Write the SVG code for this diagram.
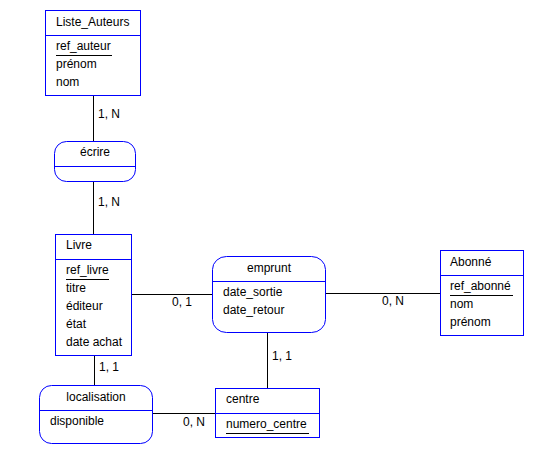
<svg xmlns="http://www.w3.org/2000/svg" width="553" height="473" viewBox="0 0 553 473">
<style>
text{font-family:"Liberation Sans",Arial,sans-serif;font-size:12px;fill:#000}
.c{text-anchor:middle}
.box{fill:#fff;stroke:#0000ff;stroke-width:1}
.sep{stroke:#0000ff;stroke-width:1}
.ul{stroke:#000;stroke-width:1}
.conn line{stroke:#000;stroke-width:1}
</style>
<rect width="553" height="473" fill="#fff"/>
<g id="connectors" class="conn">
<line x1="93.5" y1="96" x2="93.5" y2="141.5"/>
<line x1="93.5" y1="181.5" x2="93.5" y2="234.5"/>
<line x1="131.5" y1="294.5" x2="212.5" y2="294.5"/>
<line x1="325.5" y1="293.5" x2="440.5" y2="293.5"/>
<line x1="267.5" y1="332.5" x2="267.5" y2="388.5"/>
<line x1="94.5" y1="355.5" x2="94.5" y2="385.5"/>
<line x1="152.5" y1="413.5" x2="215.5" y2="413.5"/>
<text x="98" y="118">1, N</text>
<text x="98" y="206">1, N</text>
<text x="172" y="306">0, 1</text>
<text x="382" y="305">0, N</text>
<text x="272" y="360">1, 1</text>
<text x="99" y="371">1, 1</text>
<text x="183" y="426">0, N</text>
</g>
<g id="Liste_Auteurs">
<rect class="box" x="45.5" y="10.5" width="95" height="85"/>
<line class="sep" x1="45.5" y1="35.5" x2="140.5" y2="35.5"/>
<text x="56" y="26">Liste_Auteurs</text>
<text x="56" y="50">ref_auteur</text>
<line class="ul" x1="56" y1="55.5" x2="112" y2="55.5"/>
<text x="56" y="68">prénom</text>
<text x="56" y="86">nom</text>
</g>
<g id="ecrire">
<rect class="box" x="54.5" y="141.5" width="81" height="40" rx="12" ry="12"/>
<line class="sep" x1="54.5" y1="166.5" x2="135.5" y2="166.5"/>
<text class="c" x="95" y="156">écrire</text>
</g>
<g id="Livre">
<rect class="box" x="55.5" y="234.5" width="76" height="121"/>
<line class="sep" x1="55.5" y1="259.5" x2="131.5" y2="259.5"/>
<text x="66" y="249">Livre</text>
<text x="66" y="274">ref_livre</text>
<line class="ul" x1="66" y1="279.5" x2="109" y2="279.5"/>
<text x="66" y="292">titre</text>
<text x="66" y="310">éditeur</text>
<text x="66" y="328">état</text>
<text x="66" y="346">date achat</text>
</g>
<g id="emprunt">
<rect class="box" x="212.5" y="256.5" width="113" height="76" rx="14" ry="13"/>
<line class="sep" x1="212.5" y1="281.5" x2="325.5" y2="281.5"/>
<text class="c" x="269" y="272">emprunt</text>
<text x="223" y="296">date_sortie</text>
<text x="223" y="314">date_retour</text>
</g>
<g id="Abonne">
<rect class="box" x="440.5" y="250.5" width="83" height="85"/>
<line class="sep" x1="440.5" y1="275.5" x2="523.5" y2="275.5"/>
<text x="450" y="266">Abonné</text>
<text x="450" y="290">ref_abonné</text>
<line class="ul" x1="450" y1="295.5" x2="513" y2="295.5"/>
<text x="450" y="308">nom</text>
<text x="450" y="326">prénom</text>
</g>
<g id="centre">
<rect class="box" x="215.5" y="388.5" width="104" height="49"/>
<line class="sep" x1="215.5" y1="413.5" x2="319.5" y2="413.5"/>
<text x="226" y="403">centre</text>
<text x="226" y="428">numero_centre</text>
<line class="ul" x1="226" y1="433.5" x2="309" y2="433.5"/>
</g>
<g id="localisation">
<rect class="box" x="39.5" y="385.5" width="113" height="58" rx="12" ry="12"/>
<line class="sep" x1="39.5" y1="410.5" x2="152.5" y2="410.5"/>
<text class="c" x="96" y="401">localisation</text>
<text x="50" y="425">disponible</text>
</g>
</svg>
